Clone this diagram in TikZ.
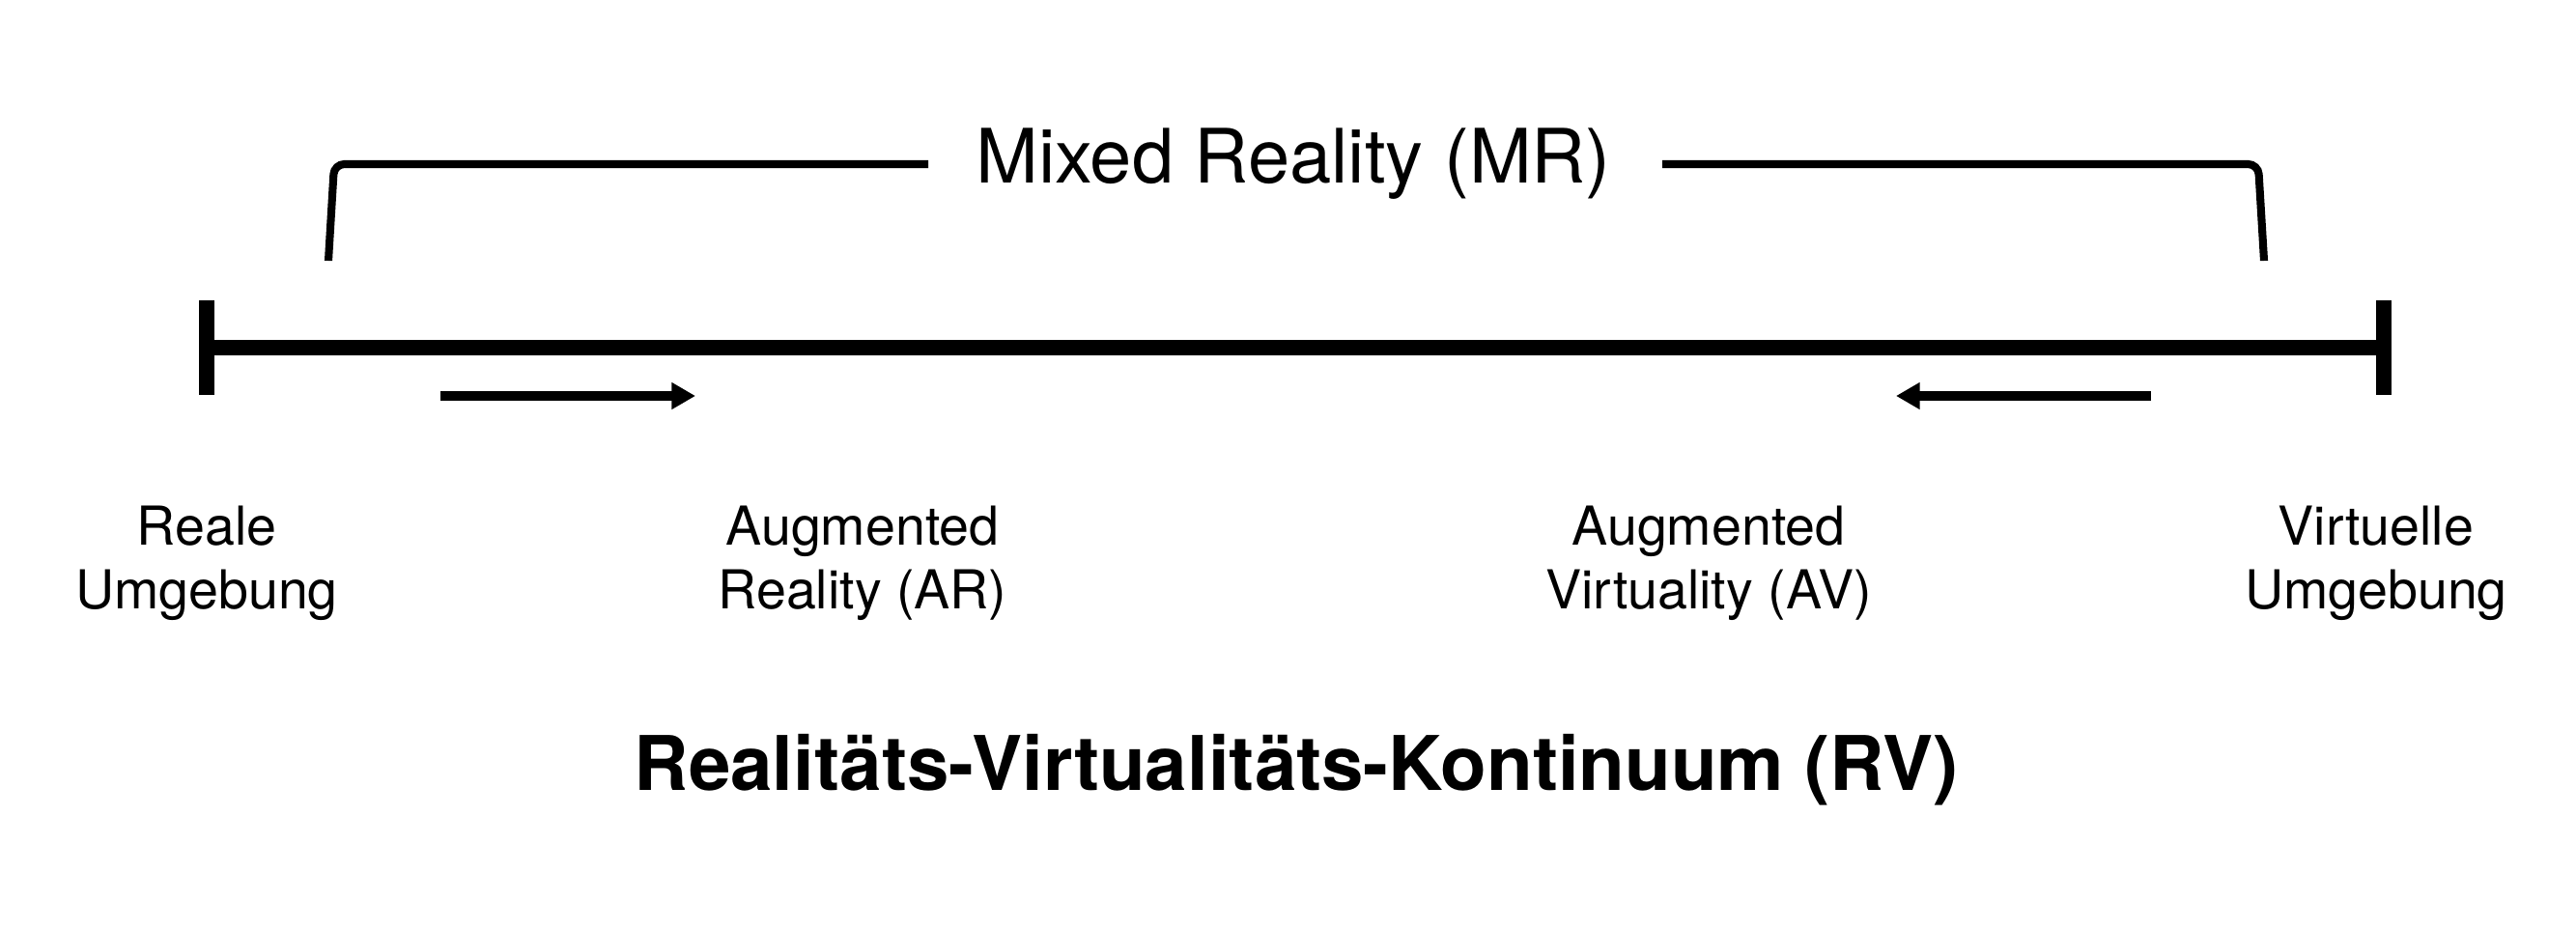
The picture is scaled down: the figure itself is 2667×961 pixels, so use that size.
\documentclass[tikz,border=0pt]{standalone}
\usepackage{fontspec}
\setmainfont{TeX Gyre Heros}
\usetikzlibrary{arrows.meta}
\begin{document}
\begin{tikzpicture}[x=0.01cm,y=-0.01cm,
  axisline/.style={line width=4.7pt},
  tickline/.style={line width=4.3pt},
  bracketline/.style={line width=2.3pt},
  dirarrow/.style={line width=2.6pt,-{Triangle[length=7pt,width=7.5pt]}},
  lbl/.style={align=center,inner sep=0pt,font=\fontsize{15.8}{18.8}\selectfont},
  mrlbl/.style={inner sep=0pt,font=\fontsize{22.1}{27}\selectfont},
  titlelbl/.style={inner sep=0pt,font=\bfseries\fontsize{22.2}{26}\selectfont}]
\useasboundingbox (0,0) rectangle (2667,961);
% end ticks
\coordinate (lt) at (214,311);
\coordinate (lb) at (214,409);
\coordinate (rt) at (2468,311);
\coordinate (rb) at (2468,409);
\coordinate (la) at (214,360);
\coordinate (ra) at (2468,360);
\draw[tickline] (lt) -- (lb);
\draw[tickline] (rt) -- (rb);
\draw[axisline] (la) -- (ra);
% bracket
\node[mrlbl] (mr) at (1339,170) {Mixed Reality (MR)};
\coordinate (bl0) at (340,270);
\coordinate (bl1) at (346,170);
\coordinate (bl2) at (961,170);
\coordinate (br0) at (2344,270);
\coordinate (br1) at (2338,170);
\coordinate (br2) at (1721,170);
\draw[bracketline,rounded corners=3pt] (bl0) -- (bl1) -- (bl2);
\draw[bracketline,rounded corners=3pt] (br0) -- (br1) -- (br2);
% arrows
\coordinate (a1s) at (456,410);
\coordinate (a1e) at (720,410);
\coordinate (a2s) at (2227,410);
\coordinate (a2e) at (1963,410);
\draw[dirarrow] (a1s) -- (a1e);
\draw[dirarrow] (a2s) -- (a2e);
% labels
\node[lbl] (real) at (214,583) {Reale\\Umgebung};
\node[lbl] (ar) at (893,583) {Augmented\\Reality (AR)};
\node[lbl] (av) at (1769,583) {Augmented\\Virtuality (AV)};
\node[lbl] (virt) at (2460,583) {Virtuelle\\Umgebung};
\node[titlelbl] (title) at (1342,797) {Realitäts-Virtualitäts-Kontinuum (RV)};
\end{tikzpicture}
\end{document}
